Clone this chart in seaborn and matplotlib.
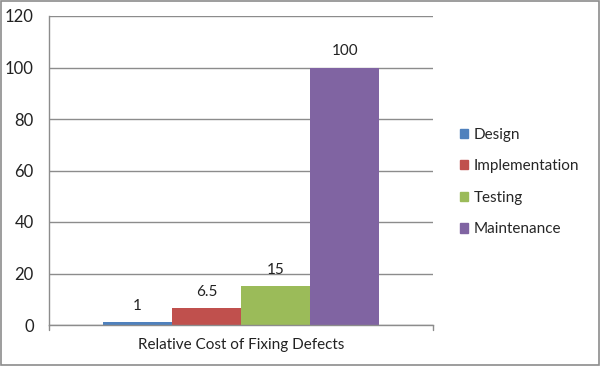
import pandas as pd
import numpy as np
import matplotlib.pyplot as plt
import seaborn as sns

phases = ["Design", "Implementation", "Testing", "Maintenance"]
costs = [1, 6.5, 15, 100]
labels = ["1", "6.5", "15", "100"]
category = "Relative Cost of Fixing Defects"
colors = ["#4F81BD", "#C0504D", "#9BBB59", "#8064A2"]

df = pd.DataFrame({"category": [category] * len(phases), "phase": phases, "cost": costs})

sns.set_theme(style="white")
plt.rcParams['font.family'] = ['Lato', 'DejaVu Sans']

fig = plt.figure(figsize=(6, 3.66), dpi=100)
ax = fig.add_axes([49 / 600, 1 - 325 / 366, 384 / 600, 309 / 366])

sns.barplot(data=df, x="category", y="cost", hue="phase", palette=colors,
            width=0.72, saturation=1, legend=False, ax=ax, edgecolor="none")

for cont, lab in zip(ax.containers, labels):
    ax.bar_label(cont, labels=[lab], padding=7, fontsize=11, color="#222222")

ax.set_xlim(-0.5, 0.5)
ax.set_ylim(0, 120)
ax.set_yticks(np.arange(0, 121, 20))
ax.set_xlabel("")
ax.set_ylabel("")
ax.grid(axis='y', color="#8c8c8c", linewidth=1)
ax.set_axisbelow(True)
for s in ["top", "right"]:
    ax.spines[s].set_visible(False)
for s in ["left", "bottom"]:
    ax.spines[s].set_color("#8c8c8c")
    ax.spines[s].set_linewidth(1)
ax.tick_params(axis='y', length=4, color="#8c8c8c", labelsize=12, labelcolor="#222222", pad=7)
ax.tick_params(axis='x', length=0, labelsize=11, labelcolor="#222222", pad=9)
ax.set_xticks([0])
ax.set_xticklabels([category])
# small end ticks on the category axis
ax.plot([-0.5, -0.5], [0, -2], color="#8c8c8c", lw=1, clip_on=False)
ax.plot([0.5, 0.5], [0, -2], color="#8c8c8c", lw=1, clip_on=False)

handles = [plt.Rectangle((0, 0), 1, 1, color=c) for c in colors]
fig.legend(handles, phases, loc="center left", bbox_to_anchor=(446 / 600, 1 - 182 / 366),
           frameon=False, fontsize=11, handlelength=0.55, handleheight=0.55,
           handletextpad=0.35, labelspacing=1.15)

fig.patches.append(plt.Rectangle((0.001, 0.002), 0.997, 0.996, transform=fig.transFigure,
                                 fill=False, edgecolor="#8c8c8c", linewidth=1.2))

plt.savefig("out.png", dpi=100)
